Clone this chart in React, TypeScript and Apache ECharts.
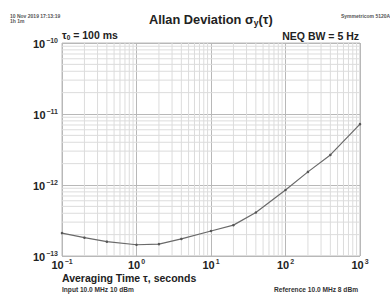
import React, { useEffect, useRef } from "react";
import * as echarts from "echarts";

const tau = [0.1, 0.2, 0.4, 1, 2, 4, 10, 20, 40, 100, 200, 400, 1000];
const adev = [
  2.1e-13, 1.81e-13, 1.59e-13, 1.44e-13, 1.47e-13, 1.74e-13, 2.25e-13,
  2.72e-13, 4.1e-13, 8.5e-13, 1.53e-12, 2.65e-12, 7.2e-12,
];
const minorX = [0.2, 0.3, 0.4, 0.5, 0.6, 0.7, 0.8, 0.9, 2, 3, 4, 5, 6, 7, 8, 9, 20, 30, 40, 50, 60, 70, 80, 90, 200, 300, 400, 500, 600, 700, 800, 900];
const minorY = [
  2e-13, 3e-13, 4e-13, 5e-13, 6e-13, 7e-13, 8e-13, 9e-13,
  2e-12, 3e-12, 4e-12, 5e-12, 6e-12, 7e-12, 8e-12, 9e-12,
  2e-11, 3e-11, 4e-11, 5e-11, 6e-11, 7e-11, 8e-11, 9e-11,
];
const X_MIN = 0.1, X_MAX = 1000, Y_MIN = 1e-13, Y_MAX = 1e-10;

const FONT = "Liberation Sans, Arial, Helvetica, sans-serif";

function powLabel(v: number) {
  const e = Math.round(Math.log10(v));
  return `{b|10}{s|${e < 0 ? "−" + Math.abs(e) : e}}`;
}

const labelRich = {
  b: { fontSize: 11, fontWeight: "bold", fontFamily: FONT, color: "#222", lineHeight: 12, verticalAlign: "bottom" },
  s: { fontSize: 7, fontWeight: "bold", fontFamily: FONT, color: "#333", lineHeight: 12, verticalAlign: "top", padding: [0, 0, 3, 1] },
};

const minorGridData: any[] = [];
minorX.forEach((x) => {
  minorGridData.push([x, Y_MIN], [x, Y_MAX], [x, "-"]);
});
minorY.forEach((y) => {
  minorGridData.push([X_MIN, y], [X_MAX, y], ["-", y]);
});

export default function App() {
  const ref = useRef<HTMLDivElement>(null);
  useEffect(() => {
    if (!ref.current) return;
    const chart = echarts.init(ref.current, null, { renderer: "svg" });
    chart.setOption({
      animation: false,
      backgroundColor: "#fff",
      grid: { left: 62, right: 30, top: 43, bottom: 39, show: true, borderColor: "#bdbdbd", borderWidth: 1 },
      xAxis: {
        type: "log",
        logBase: 10,
        min: X_MIN,
        max: X_MAX,
        axisLine: { show: false },
        axisTick: { show: false },
        splitLine: { show: true, lineStyle: { color: "#b8b8b8", width: 1 } },
        axisLabel: { formatter: powLabel, rich: labelRich, margin: 2 },
      },
      yAxis: {
        type: "log",
        logBase: 10,
        min: Y_MIN,
        max: Y_MAX,
        axisLine: { show: false },
        axisTick: { show: false },
        splitLine: { show: true, lineStyle: { color: "#b8b8b8", width: 1 } },
        axisLabel: { formatter: powLabel, rich: labelRich, margin: 4 },
      },
      series: [
        {
          type: "line",
          data: minorGridData,
          silent: true,
          symbol: "none",
          connectNulls: false,
          lineStyle: { color: "#dcdcdc", width: 1 },
          z: 1,
        },
        {
          type: "line",
          data: tau.map((t, i) => [t, adev[i]]),
          symbol: "circle",
          symbolSize: 2.5,
          itemStyle: { color: "#555" },
          lineStyle: { color: "#6a6a6a", width: 1.2 },
          z: 5,
        },
      ],
      graphic: [
        { type: "text", left: 10, top: 13, style: { text: "10 Nov 2019 17:13:19", font: `bold 5px ${FONT}`, fill: "#555" } },
        { type: "text", left: 10, top: 18, style: { text: "1h 1m", font: `bold 5px ${FONT}`, fill: "#555" } },
        { type: "text", left: 341, top: 13, style: { text: "Symmetricom 5120A", font: `bold 5px ${FONT}`, fill: "#555" } },
        {
          type: "text",
          left: 149,
          top: 13,
          style: {
            text: "{t|Allan Deviation σ}{u|y}{t|(τ)}",
            rich: {
              t: { fontSize: 12.8, fontWeight: "bold", fontFamily: FONT, fill: "#222", lineHeight: 16 },
              u: { fontSize: 8.5, fontWeight: "bold", fontFamily: FONT, fill: "#222", lineHeight: 8, verticalAlign: "bottom" },
            },
          },
        },
        {
          type: "text",
          left: 62,
          top: 29,
          style: {
            text: "{t|τ}{u|0}{t| = 100 ms}",
            rich: {
              t: { fontSize: 10.5, fontWeight: "bold", fontFamily: FONT, fill: "#222", lineHeight: 12 },
              u: { fontSize: 6.5, fontWeight: "bold", fontFamily: FONT, fill: "#222", lineHeight: 5, verticalAlign: "bottom" },
            },
          },
        },
        { type: "text", right: 31, top: 30, style: { text: "NEQ BW = 5 Hz", font: `bold 10.5px ${FONT}`, fill: "#222" } },
        { type: "text", left: 62, top: 272, style: { text: "Averaging Time τ, seconds", font: `bold 10.5px ${FONT}`, fill: "#222" } },
        { type: "text", left: 62, top: 286, style: { text: "Input 10.0 MHz 10 dBm", font: `bold 6.6px ${FONT}`, fill: "#333" } },
        { type: "text", right: 32, top: 286, style: { text: "Reference 10.0 MHz 8 dBm", font: `bold 6.6px ${FONT}`, fill: "#333" } },
      ],
    });
    return () => chart.dispose();
  }, []);
  return <div ref={ref} style={{ width: 390, height: 295, position: "absolute", left: 0, top: 0 }} />;
}
